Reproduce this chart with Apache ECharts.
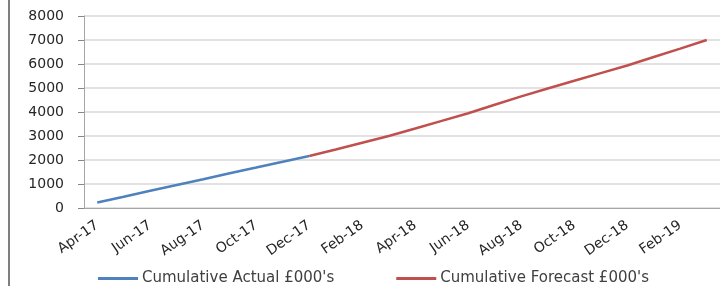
<!DOCTYPE html>
<html>
<head>
<meta charset="utf-8">
<script src="https://cdn.jsdelivr.net/npm/echarts@6/dist/echarts.min.js"></script>
<style>
  html, body { margin: 0; padding: 0; background: #fff; }
  #wrap { position: relative; width: 720px; height: 286px; overflow: hidden; }
  #chart { width: 720px; height: 286px; }
  /* 左侧灰色边框线（原图截取时留下的） */
  #edge { position: absolute; left: 8px; top: 0; width: 2px; height: 286px; background: #7f7f7f; }
</style>
</head>
<body>
<div id="wrap">
  <div id="chart"></div>
  <div id="edge"></div>
</div>
<script>
// 月份类目：Apr-17 ~ Mar-19，共 24 个月
const months = [
  'Apr-17', 'May-17', 'Jun-17', 'Jul-17', 'Aug-17', 'Sep-17',
  'Oct-17', 'Nov-17', 'Dec-17', 'Jan-18', 'Feb-18', 'Mar-18',
  'Apr-18', 'May-18', 'Jun-18', 'Jul-18', 'Aug-18', 'Sep-18',
  'Oct-18', 'Nov-18', 'Dec-18', 'Jan-19', 'Feb-19', 'Mar-19'
];

// 累计实际值（到 Dec-17 为止）
const actual = [230, 470, 715, 960, 1200, 1445, 1685, 1930, 2170,
  null, null, null, null, null, null, null, null, null, null, null, null, null, null, null];

// 累计预测值（从 Dec-17 开始接上）
const forecast = [null, null, null, null, null, null, null, null, 2170,
  2440, 2720, 3000, 3310, 3630, 3950, 4300, 4650, 4980,
  5300, 5620, 5940, 6290, 6640, 7000];

const seriesNames = ['Cumulative Actual £000\'s', 'Cumulative Forecast £000\'s'];
const seriesColors = ['#4F81BD', '#C0504D'];

const chart = echarts.init(document.getElementById('chart'), null, { renderer: 'canvas' });

const textFont = 'DejaVu Sans';

chart.setOption({
  animation: false,
  grid: { left: 84, top: 16, width: 648, height: 192 },
  legend: {
    left: 98,
    top: 271,
    padding: 0,
    icon: 'rect',
    itemWidth: 40,
    itemHeight: 3,
    itemGap: 62,
    textStyle: { fontFamily: textFont, fontSize: 15, color: '#404040', padding: [0, 0, 0, -1] },
    data: seriesNames
  },
  xAxis: {
    type: 'category',
    data: months,
    boundaryGap: true,
    axisLine: { lineStyle: { color: '#a6a6a6', width: 1 } },
    axisTick: { interval: 1, length: 5, lineStyle: { color: '#868686' } },
    axisLabel: {
      interval: 1,
      rotate: 35,
      margin: 16,
      fontFamily: textFont,
      fontSize: 14,
      color: '#262626'
    },
    splitLine: { show: false }
  },
  yAxis: {
    type: 'value',
    min: 0,
    max: 8000,
    interval: 1000,
    axisLine: { show: true, lineStyle: { color: '#a6a6a6' } },
    axisTick: { show: true, length: 6, lineStyle: { color: '#868686' } },
    axisLabel: {
      margin: 20,
      fontFamily: textFont,
      fontSize: 14,
      color: '#262626',
      formatter: function (val) { return String(val); }
    },
    splitLine: { lineStyle: { color: '#d9d9d9', width: 1.5 } }
  },
  series: [
    {
      name: seriesNames[0],
      type: 'line',
      data: actual,
      symbol: 'none',
      lineStyle: { width: 2.5, color: seriesColors[0] },
      itemStyle: { color: seriesColors[0] }
    },
    {
      name: seriesNames[1],
      type: 'line',
      data: forecast,
      symbol: 'none',
      lineStyle: { width: 2.5, color: seriesColors[1] },
      itemStyle: { color: seriesColors[1] }
    }
  ]
});
</script>
</body>
</html>
